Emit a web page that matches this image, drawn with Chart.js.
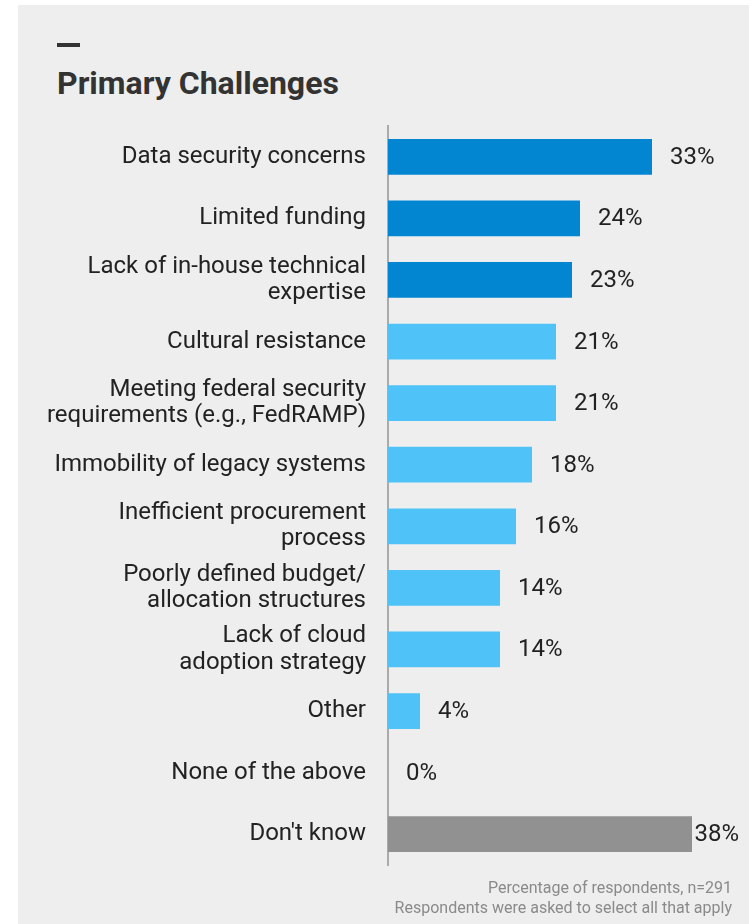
<!DOCTYPE html>
<html>
<head>
<meta charset="utf-8">
<script src="https://cdn.jsdelivr.net/npm/chart.js@4"></script>
<style>
  html, body { margin: 0; padding: 0; background: #ffffff; }
  #panel { position: absolute; left: 18px; top: 5px; width: 731px; height: 919px; background: #eeeeee; }
  #dash { position: absolute; left: 57px; top: 43px; width: 23px; height: 4px; background: #333333; }
  #title { position: absolute; left: 57px; top: 64px; font: bold 32px Roboto, sans-serif; color: #333333; }
  #note { position: absolute; right: 17px; top: 878px; font: 16px Roboto, sans-serif; color: #8a8a8a; text-align: right; line-height: 20px; }
  #wrap { position: absolute; left: 0; top: 0; width: 749px; height: 924px; }
</style>
</head>
<body>
<div id="panel"></div>
<div id="dash"></div>
<div id="title">Primary Challenges</div>
<div id="wrap"><canvas id="myChart"></canvas></div>
<div id="note">Percentage of respondents, n=291<br>Respondents were asked to select all that apply</div>
<script>
// categories (multi-line labels as arrays)
var categories = [
  'Data security concerns',
  'Limited funding',
  ['Lack of in-house technical', 'expertise'],
  'Cultural resistance',
  ['Meeting federal security', 'requirements (e.g., FedRAMP)'],
  'Immobility of legacy systems',
  ['Inefficient procurement', 'process'],
  ['Poorly defined budget/', 'allocation structures'],
  ['Lack of cloud', 'adoption strategy'],
  'Other',
  'None of the above',
  "Don't know"
];

var values = [33, 24, 23, 21, 21, 18, 16, 14, 14, 4, 0, 38];

var barColors = [
  '#0386d2', '#0386d2', '#0386d2',
  '#4fc3f7', '#4fc3f7', '#4fc3f7', '#4fc3f7', '#4fc3f7', '#4fc3f7', '#4fc3f7', '#4fc3f7',
  '#919191'
];

// draws the "33%" labels next to each bar
var valueLabels = {
  id: 'valueLabels',
  afterDatasetsDraw: function(chart) {
    var ctx = chart.ctx;
    var meta = chart.getDatasetMeta(0);
    ctx.save();
    ctx.font = '24px Roboto, sans-serif';
    ctx.fillStyle = '#222222';
    ctx.textBaseline = 'middle';
    meta.data.forEach(function(bar, i) {
      var txt = values[i] + '%';
      var w = ctx.measureText(txt).width;
      var x = Math.min(bar.x + 18, chart.width - 10 - w);
      ctx.fillText(txt, x, bar.y + 1);
    });
    ctx.restore();
  }
};

var myChart = new Chart(document.getElementById('myChart'), {
  type: 'bar',
  data: {
    labels: categories,
    datasets: [{
      data: values,
      backgroundColor: barColors,
      categoryPercentage: 1,
      barPercentage: 0.58
    }]
  },
  options: {
    indexAxis: 'y',
    responsive: true,
    maintainAspectRatio: false,
    animation: false,
    layout: { padding: { top: 126, bottom: 59, left: 0, right: 1 } },
    plugins: { legend: { display: false }, tooltip: { enabled: false } },
    scales: {
      x: {
        display: false,
        min: 0,
        max: 45
      },
      y: {
        afterFit: function(scale) { scale.width = 388; },
        grid: { display: false, drawTicks: false },
        border: { display: true, color: '#aaaaaa', width: 2 },
        ticks: {
          padding: 22,
          color: '#222222',
          font: { family: 'Roboto, sans-serif', size: 24, lineHeight: 1.09 }
        }
      }
    }
  },
  plugins: [valueLabels]
});
</script>
</body>
</html>
